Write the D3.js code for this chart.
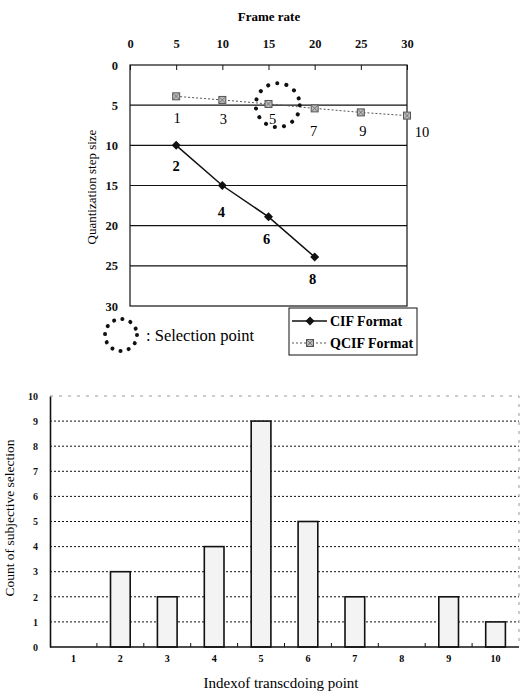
<!DOCTYPE html>
<html>
<head>
<meta charset="utf-8">
<script src="https://cdn.jsdelivr.net/npm/d3@7"></script>
<style>
  body { margin: 0; background: #fff; }
  svg { font-family: "Liberation Serif", "DejaVu Serif", serif; }
</style>
</head>
<body>
<script>
// top chart data: frame rate vs quantization step size
let frameRates = [5, 10, 15, 20, 25, 30];
let qcifSteps = [3.9, 4.35, 4.85, 5.4, 5.9, 6.3];
let qcifLabels = ["1", "3", "5", "7", "9", "10"];
let cifRates = [5, 10, 15, 20];
let cifSteps = [10, 15, 18.9, 23.9];
let cifLabels = ["2", "4", "6", "8"];
let frameTicks = [0, 5, 10, 15, 20, 25, 30];
let stepTicks = [0, 5, 10, 15, 20, 25, 30];
let selection = [16, 5];

// bottom chart data: count of subjective selection per transcoding point
let pointIndex = ["1", "2", "3", "4", "5", "6", "7", "8", "9", "10"];
let selectionCount = [0, 3, 2, 4, 9, 5, 2, 0, 2, 1];
let countTicks = [0, 1, 2, 3, 4, 5, 6, 7, 8, 9, 10];

let svg = d3.select("body").append("svg").attr("width", 520).attr("height", 700);

// ---------- top chart ----------
let box1 = { left: 130, right: 407, top: 65, bottom: 306 };
let x = d3.scaleLinear().domain([0, 30]).range([box1.left, box1.right]);
let y = d3.scaleLinear().domain([0, 30]).range([box1.top, box1.bottom]);

let g1 = svg.append("g");

// frame
g1.append("rect")
  .attr("x", box1.left).attr("y", box1.top)
  .attr("width", box1.right - box1.left).attr("height", box1.bottom - box1.top)
  .attr("fill", "none").attr("stroke", "#111").attr("stroke-width", 1.2);

// horizontal grid lines
g1.selectAll(".grid").data(stepTicks.slice(1, -1)).enter().append("line")
  .attr("x1", box1.left).attr("x2", box1.right)
  .attr("y1", d => y(d)).attr("y2", d => y(d))
  .attr("stroke", "#111").attr("stroke-width", 1.1);

// top axis with inner ticks
g1.append("g")
  .attr("transform", "translate(0," + box1.top + ")")
  .call(d3.axisTop(x).tickValues(frameTicks).tickSizeInner(-5).tickSizeOuter(0).tickPadding(17))
  .call(a => a.select(".domain").remove())
  .call(a => a.selectAll("line").attr("stroke", "#111"))
  .call(a => a.selectAll("text").attr("font-size", 12.5).attr("font-weight", "bold").attr("fill", "#111")
    .attr("font-family", "Liberation Serif"));

// left axis labels
g1.append("g")
  .attr("transform", "translate(" + box1.left + ",0)")
  .call(d3.axisLeft(y).tickValues(stepTicks).tickSize(0).tickPadding(12))
  .call(a => a.select(".domain").remove())
  .call(a => a.selectAll("text").attr("font-size", 12.5).attr("font-weight", "bold").attr("fill", "#111")
    .attr("font-family", "Liberation Serif"));

g1.append("text").attr("x", 269).attr("y", 21).attr("text-anchor", "middle")
  .attr("font-size", 13).attr("font-weight", "bold").text("Frame rate");

g1.append("text").attr("transform", "translate(96,187) rotate(-90)").attr("text-anchor", "middle")
  .attr("font-size", 13).text("Quantization step size");

let line = d3.line().x(d => x(d[0])).y(d => y(d[1]));

// QCIF series
let qcif = frameRates.map((r, i) => [r, qcifSteps[i]]);
g1.append("path").attr("d", line(qcif)).attr("fill", "none")
  .attr("stroke", "#555").attr("stroke-width", 1).attr("stroke-dasharray", "2,2");

function qcifMarker(sel) {
  sel.append("rect").attr("x", -3.5).attr("y", -3.5).attr("width", 7).attr("height", 7)
    .attr("fill", "#bbb").attr("stroke", "#555").attr("stroke-width", 1);
  sel.append("path").attr("d", "M-3,-3L3,3M3,-3L-3,3").attr("stroke", "#666").attr("stroke-width", 0.8);
}
g1.selectAll(".qm").data(qcif).enter().append("g")
  .attr("transform", d => "translate(" + x(d[0]) + "," + y(d[1]) + ")")
  .call(qcifMarker);

// CIF series
let cif = cifRates.map((r, i) => [r, cifSteps[i]]);
g1.append("path").attr("d", line(cif)).attr("fill", "none")
  .attr("stroke", "#111").attr("stroke-width", 1.5);

function cifMarker(sel) {
  sel.append("path").attr("d", "M0,-4.5L4.5,0L0,4.5L-4.5,0Z").attr("fill", "#111");
}
g1.selectAll(".cm").data(cif).enter().append("g")
  .attr("transform", d => "translate(" + x(d[0]) + "," + y(d[1]) + ")")
  .call(cifMarker);

// point labels
let qcifOffsets = [[1, 27], [1, 24], [4, 20], [-1, 28], [2, 24], [15, 21]];
g1.selectAll(".ql").data(qcif).enter().append("text")
  .attr("x", (d, i) => x(d[0]) + qcifOffsets[i][0])
  .attr("y", (d, i) => y(d[1]) + qcifOffsets[i][1])
  .attr("text-anchor", "middle").attr("font-size", 14.5)
  .text((d, i) => qcifLabels[i]);

let cifOffsets = [[0, 26], [-1, 31], [-2, 27], [-2, 27]];
g1.selectAll(".cl").data(cif).enter().append("text")
  .attr("x", (d, i) => x(d[0]) + cifOffsets[i][0])
  .attr("y", (d, i) => y(d[1]) + cifOffsets[i][1])
  .attr("text-anchor", "middle").attr("font-size", 14.5).attr("font-weight", "bold")
  .text((d, i) => cifLabels[i]);

// selection circle
function dottedCircle(sel, r, n) {
  sel.append("circle").attr("r", r).attr("fill", "none").attr("stroke", "#111")
    .attr("stroke-width", 4).attr("stroke-linecap", "round")
    .attr("stroke-dasharray", "0.1," + (2 * Math.PI * r / n).toFixed(3));
}
g1.append("g").attr("transform", "translate(" + x(selection[0]) + "," + y(selection[1]) + ")")
  .call(dottedCircle, 22, 15);

g1.append("g").attr("transform", "translate(121,335)").call(dottedCircle, 16, 12);
g1.append("text").attr("x", 146).attr("y", 341).attr("font-size", 16.5).text(": Selection point");

// legend
let leg = g1.append("g").attr("transform", "translate(289,308)");
leg.append("rect").attr("width", 128).attr("height", 47)
  .attr("fill", "#fff").attr("stroke", "#111").attr("stroke-width", 1);
leg.append("line").attr("x1", 3).attr("x2", 38).attr("y1", 13).attr("y2", 13)
  .attr("stroke", "#111").attr("stroke-width", 1.5);
leg.append("g").attr("transform", "translate(21,13)").call(cifMarker);
leg.append("text").attr("x", 41).attr("y", 18).attr("font-size", 14).attr("font-weight", "bold").text("CIF Format");
leg.append("line").attr("x1", 3).attr("x2", 38).attr("y1", 35).attr("y2", 35)
  .attr("stroke", "#555").attr("stroke-width", 1).attr("stroke-dasharray", "2,2");
leg.append("g").attr("transform", "translate(21,35)").call(qcifMarker);
leg.append("text").attr("x", 41).attr("y", 40).attr("font-size", 14).attr("font-weight", "bold").text("QCIF Format");

// ---------- bottom chart ----------
let box2 = { left: 50, right: 519, top: 396, bottom: 647 };
let xb = d3.scaleBand().domain(pointIndex).range([box2.left, box2.right]).paddingInner(0.58).paddingOuter(0.29);
let yb = d3.scaleLinear().domain([0, 10]).range([box2.bottom, box2.top]);

let g2 = svg.append("g");

// dotted grid lines 1..9
g2.selectAll(".bg").data(countTicks.slice(1, -1)).enter().append("line")
  .attr("x1", box2.left).attr("x2", box2.right)
  .attr("y1", d => yb(d)).attr("y2", d => yb(d))
  .attr("stroke", "#111").attr("stroke-width", 1).attr("stroke-dasharray", "2,2");

// faint top and right border
g2.append("path")
  .attr("d", "M" + box2.left + "," + yb(10) + "H" + box2.right + "V" + box2.bottom)
  .attr("fill", "none").attr("stroke", "#999").attr("stroke-width", 1).attr("stroke-dasharray", "3,6");

// bars
g2.selectAll(".bar").data(selectionCount).enter().append("rect")
  .attr("x", (d, i) => xb(pointIndex[i]))
  .attr("y", d => yb(d))
  .attr("width", xb.bandwidth())
  .attr("height", d => yb(0) - yb(d))
  .attr("fill", "#f3f3f3").attr("stroke", "#111").attr("stroke-width", 1.6);

// left axis
g2.append("g")
  .attr("transform", "translate(" + box2.left + ",0)")
  .call(d3.axisLeft(yb).tickValues(countTicks).tickSize(0).tickPadding(12))
  .call(a => a.select(".domain").attr("stroke", "#111").attr("stroke-width", 1.6))
  .call(a => a.selectAll("text").attr("font-size", 10).attr("font-weight", "bold").attr("fill", "#111")
    .attr("font-family", "Liberation Serif"));

// bottom axis
let boundaries = pointIndex.slice(1).map(d => xb(d) - xb.step() * xb.paddingInner() / 2);
g2.append("line").attr("x1", box2.left).attr("x2", box2.right)
  .attr("y1", box2.bottom).attr("y2", box2.bottom).attr("stroke", "#111").attr("stroke-width", 1.6);
g2.selectAll(".bt").data(boundaries).enter().append("line")
  .attr("x1", d => d).attr("x2", d => d)
  .attr("y1", box2.bottom).attr("y2", box2.bottom - 4)
  .attr("stroke", "#111").attr("stroke-width", 1);
g2.selectAll(".bl").data(pointIndex).enter().append("text")
  .attr("x", d => xb(d) + xb.bandwidth() / 2).attr("y", 662)
  .attr("text-anchor", "middle").attr("font-size", 10).attr("font-weight", "bold")
  .text(d => d);

g2.append("text").attr("x", 281).attr("y", 688).attr("text-anchor", "middle")
  .attr("font-size", 15).text("Indexof transcdoing point");

g2.append("text").attr("transform", "translate(14,518) rotate(-90)").attr("text-anchor", "middle")
  .attr("font-size", 13.5).text("Count of subjective selection");
</script>
</body>
</html>
